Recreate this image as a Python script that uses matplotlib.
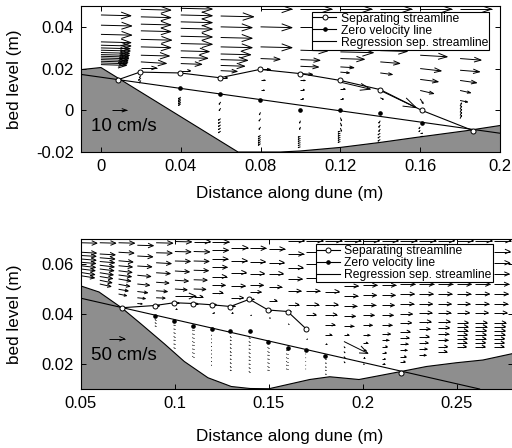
import matplotlib
matplotlib.use("Agg")
import matplotlib.pyplot as plt
from matplotlib.collections import LineCollection
from matplotlib.lines import Line2D

plt.rcParams['font.family'] = ['Liberation Sans', 'DejaVu Sans']

# ---------------- upper panel (10 cm/s reference) ----------------
top_cols = [0.00, 0.02, 0.04, 0.06, 0.08, 0.10, 0.12, 0.14, 0.16, 0.18]
top_z = [
    [0.0457, 0.0408, 0.0364, 0.0328, 0.0312, 0.0299, 0.0288, 0.0277, 0.0267, 0.0259, 0.0251, 0.0243, 0.0235, 0.0227, 0.0219],
    [0.0484, 0.0448, 0.0413, 0.0381, 0.0340, 0.0304, 0.0264, 0.0232, 0.0203, 0.0167, 0.0155, 0.0143],
    [0.0489, 0.0457, 0.0424, 0.0393, 0.0355, 0.0320, 0.0285, 0.0253, 0.0224, 0.0190, 0.0063, 0.0055, 0.0047, 0.0039, 0.0031],
    [0.0452, 0.0400, 0.0349, 0.0304, 0.0270, 0.0243, 0.0215, 0.0190, 0.0156, 0.0040, 0.0010, -0.0040, -0.0055, -0.0070, -0.0085, -0.0100],
    [0.0485, 0.0400, 0.0304, 0.0248, 0.0196, 0.0144, 0.0096, -0.0010, -0.0040, -0.0080, -0.0120, -0.0130, -0.0140, -0.0150, -0.0160],
    [0.0485, 0.0400, 0.0288, 0.0243, 0.0211, 0.0176, 0.0143, 0.0099, 0.0055, -0.0050, -0.0080, -0.0125, -0.0135, -0.0145, -0.0155, -0.0165, -0.0175],
    [0.0485, 0.0280, 0.0248, 0.0208, 0.0183, 0.0135, 0.0103, 0.0055, -0.0035, -0.0060, -0.0085, -0.0100, -0.0110, -0.0120, -0.0130, -0.0140, -0.0150],
    [0.0485, 0.0286, 0.0232, 0.0179, 0.0095, 0.0060, -0.0050, -0.0070, -0.0090, -0.0110, -0.0125, -0.0140],
    [0.0485, 0.0264, 0.0200, 0.0148, 0.0095, 0.0055, -0.0080, -0.0095, -0.0110, -0.0125],
    [0.0485, 0.0248, 0.0192, 0.0143, 0.0095, 0.0047, 0.0020, 0.0005, -0.0010, -0.0025, -0.0040],
]
top_u = [
    [20, 20.5, 20.5, 20, 20, 19.5, 19.5, 19, 19, 18.5, 18.5, 18, 18, 17.5, 17],
    [20, 20, 20, 20, 20.5, 20, 19, 17, 10.5, -1, -1.5, -1],
    [21, 21, 21, 21, 21, 21, 19, 18, 14, 6.5, -1.5, -1.5, -1.5, -1.5, -1.5],
    [22, 21, 21, 21, 20, 18, 16, 11, 4.5, -1, -1, -1.5, -1.5, -1.5, -1.5, -1.5],
    [21, 21, 21, 13, 6.5, 3, 2.5, -0.8, -1, -1, -1.5, -1.5, -1.5, -1.5, -1.5],
    [21, 21, 18, 13, 12, 8, 3, 2.5, 2, -0.6, -0.6, -1.5, -1.5, -1.5, -1.5, -1.5, -1.5],
    [21, 22, 16, 9, 6, 20, 3, 2, 0.8, 0.8, 0.8, -1.5, -1.5, -1.5, -1.5, -1.5, -1.5],
    [21, 18, 13, 8, 24, 2, -1, -1, -1, -1.5, -1.5, -1.5],
    [21, 18, 14, 12, 9, 2, -0.8, -0.8, 1.5, 1.5],
    [21, 14, 13, 11, 7, 5, 1, 1, 1, 1, 1],
]
top_w = [
    [-0.5, -0.5, -0.5, -0.5, -0.5, -0.5, -0.5, -0.5, -0.5, -0.5, -0.5, -0.5, -0.5, -0.5, -0.5],
    [-0.5, -0.5, -0.5, -0.5, -0.5, -0.5, -0.5, -1, 0, -1.5, -1.5, -1.5],
    [-0.5, -0.5, -0.5, -0.5, -0.5, -0.5, -0.5, -0.5, -0.5, 0, -1, -1, -1, -1, -1],
    [-0.5, -0.5, -0.5, -0.5, -0.5, -0.5, -0.5, -0.5, 0, -1.5, -1.5, -1, -1, -1, -1, -1],
    [0, -0.5, -0.5, -0.5, 0, 0, 0, -1.5, -1.5, -1.5, -1, -1, -1, -1, -1],
    [0, 0, -0.5, -0.5, -0.5, -0.5, 0, 0, 0, -1.5, -1.5, -0.5, -0.5, -0.5, -0.5, -0.5, -0.5],
    [0, -0.5, -0.5, -0.5, -0.5, -4.5, 0, 0, -2, -2, -2, -0.5, -0.5, -0.5, -0.5, -0.5, -0.5],
    [0, -0.5, -1, -1, -11, -1, -1.5, -1.5, -1.5, -1, -1, -1],
    [0, -1, -1.5, -1.5, -2, -3, -1, -1, 0, 0],
    [0, -1, -1, -1.5, -1.5, -1, 2, 2, 2, 2, 2],
]
top_bed_x = [-0.01, 0.0, 0.0687, 0.09, 0.10, 0.12, 0.14, 0.158, 0.183, 0.20]
top_bed_z = [0.0195, 0.0205, -0.0200, -0.0200, -0.0195, -0.0178, -0.0154, -0.0130, -0.0098, -0.0073]
top_sep_x = [0.0087, 0.0195, 0.0396, 0.0596, 0.0797, 0.0997, 0.1200, 0.1400, 0.1607, 0.1866]
top_sep_z = [0.0147, 0.0183, 0.0179, 0.0156, 0.0196, 0.0176, 0.0143, 0.0099, 0.0000, -0.0098]
top_zero_x = [0.0396, 0.0596, 0.0797, 0.0997, 0.1200, 0.1400, 0.1607]
top_zero_z = [0.0105, 0.0076, 0.0050, 0.0000, 0.0000, -0.0014, -0.0062]
top_reg_x = [-0.01, 0.20]
top_reg_z = [0.0172, -0.0110]

# ---------------- lower panel (50 cm/s reference) ----------------
bot_cols = [0.05, 0.06, 0.07, 0.08, 0.09, 0.10, 0.11, 0.12, 0.13, 0.14, 0.15, 0.16,
            0.17, 0.18, 0.19, 0.20, 0.21, 0.22, 0.23, 0.24, 0.25, 0.26, 0.27]
bot_z = [
    [0.0685, 0.0647, 0.0634, 0.0620, 0.0607, 0.0593, 0.0580, 0.0566, 0.0553],
    [0.0685, 0.0640, 0.0625, 0.0610, 0.0595, 0.0580, 0.0565, 0.0550, 0.0535, 0.0520],
    [0.0685, 0.0647, 0.0613, 0.0593, 0.0573, 0.0556, 0.0540, 0.0519, 0.0499, 0.0480],
    [0.0675, 0.0632, 0.0592, 0.0555, 0.0520, 0.0490, 0.0465, 0.0442],
    [0.0685, 0.0645, 0.0605, 0.0565, 0.0527, 0.0493, 0.0465, 0.0434, 0.0378, 0.0365, 0.0352],
    [0.0690, 0.0650, 0.0612, 0.0572, 0.0535, 0.0500, 0.0472, 0.0445, 0.0420, 0.0355, 0.0340, 0.0325, 0.0310, 0.0295, 0.0280, 0.0265],
    [0.0690, 0.0650, 0.0612, 0.0575, 0.0537, 0.0500, 0.0470, 0.0442, 0.0335, 0.0320, 0.0305, 0.0290, 0.0275, 0.0260, 0.0245, 0.0230],
    [0.0688, 0.0655, 0.0620, 0.0587, 0.0550, 0.0515, 0.0486, 0.0438, 0.0405, 0.0315, 0.0300, 0.0285, 0.0270, 0.0255, 0.0240, 0.0225, 0.0210, 0.0195],
    [0.0665, 0.0613, 0.0566, 0.0512, 0.0465, 0.0431, 0.0405, 0.0310, 0.0295, 0.0280, 0.0265, 0.0250, 0.0235, 0.0220, 0.0205, 0.0190, 0.0175],
    [0.0663, 0.0609, 0.0562, 0.0515, 0.0488, 0.0459, 0.0395, 0.0305, 0.0290, 0.0275, 0.0260, 0.0245, 0.0230, 0.0215, 0.0200, 0.0185, 0.0170],
    [0.0660, 0.0606, 0.0562, 0.0508, 0.0454, 0.0414, 0.0385, 0.0266, 0.0250, 0.0235, 0.0220, 0.0205, 0.0190, 0.0175],
    [0.0694, 0.0640, 0.0586, 0.0540, 0.0492, 0.0438, 0.0411, 0.0360, 0.0255, 0.0240, 0.0225, 0.0210, 0.0195, 0.0180],
    [0.0694, 0.0650, 0.0600, 0.0545, 0.0492, 0.0438, 0.0398, 0.0341, 0.0300, 0.0240, 0.0225, 0.0210, 0.0195, 0.0180],
    [0.0694, 0.0650, 0.0600, 0.0545, 0.0490, 0.0438, 0.0398, 0.0357, 0.0317, 0.0280, 0.0220, 0.0205, 0.0190, 0.0175, 0.0160],
    [0.0694, 0.0650, 0.0600, 0.0550, 0.0512, 0.0472, 0.0431, 0.0391, 0.0351, 0.0317, 0.0290, 0.0270, 0.0250, 0.0230, 0.0210],
    [0.0694, 0.0650, 0.0605, 0.0560, 0.0515, 0.0475, 0.0435, 0.0395, 0.0355, 0.0315, 0.0285, 0.0255, 0.0225, 0.0200],
    [0.0694, 0.0650, 0.0605, 0.0560, 0.0515, 0.0475, 0.0435, 0.0395, 0.0355, 0.0320, 0.0295, 0.0270, 0.0245, 0.0220, 0.0200],
    [0.0694, 0.0650, 0.0605, 0.0560, 0.0519, 0.0480, 0.0440, 0.0400, 0.0365, 0.0330, 0.0305, 0.0280, 0.0255, 0.0230, 0.0210],
    [0.0694, 0.0650, 0.0605, 0.0560, 0.0519, 0.0480, 0.0440, 0.0405, 0.0370, 0.0340, 0.0310, 0.0285, 0.0260, 0.0235],
    [0.0694, 0.0650, 0.0605, 0.0560, 0.0519, 0.0480, 0.0440, 0.0405, 0.0370, 0.0345, 0.0320, 0.0295, 0.0270, 0.0250],
    [0.0694, 0.0650, 0.0605, 0.0560, 0.0519, 0.0480, 0.0440, 0.0405, 0.0366, 0.0350, 0.0334, 0.0318, 0.0302, 0.0286, 0.0270],
    [0.0694, 0.0650, 0.0605, 0.0560, 0.0519, 0.0480, 0.0440, 0.0405, 0.0366, 0.0350, 0.0334, 0.0318, 0.0302, 0.0286, 0.0270],
    [0.0694, 0.0650, 0.0605, 0.0560, 0.0519, 0.0480, 0.0440, 0.0405, 0.0366, 0.0350, 0.0334, 0.0318, 0.0302, 0.0286, 0.0270],
]
bot_u = [
    [50, 48, 47, 47, 46, 45, 44, 43, 42],
    [50, 48, 47, 46, 45, 44, 42, 40, 38, 35],
    [50, 48, 45, 43, 42, 40, 38, 35, 30, 25],
    [50, 48, 45, 42, 38, 32, 25, 15],
    [52, 50, 47, 44, 40, 35, 28, 10, -3, -3, -3],
    [52, 50, 48, 45, 42, 38, 65, 12, 6, -3, -3, -3, -3, -3, -3, -3],
    [52, 50, 48, 46, 42, 38, 28, 12, -3, -3, -3, -3, -3, -3, -3, -3],
    [52, 50, 48, 46, 44, 40, 32, 12, 6, -3, -3, -3, -3, -3, -3, -3, -3, -3],
    [52, 50, 47, 44, 38, 12, 5, -3, -3, -3, -3, -3, -3, -3, -3, -3, -3],
    [50, 48, 45, 42, 35, 12, 4, -3, -3, -3, -3, -3, -3, -3, -3, -3, -3],
    [50, 48, 45, 40, 25, 8, 4, -3, -3, -3, -3, -3, -3, -3],
    [52, 50, 48, 46, 42, 35, 10, 3, -3, -3, -3, -3, -3, -3],
    [52, 50, 48, 46, 42, 38, 30, 5, 3, -2, -2, -2, -2, -2],
    [52, 50, 48, 46, 44, 40, 36, 30, 20, 5, 2, 2, 2, 2, 2],
    [52, 50, 48, 46, 45, 43, 40, 36, 30, 15, 75, 3, 3, 3, 3],
    [52, 50, 48, 46, 45, 43, 40, 36, 30, 22, 15, 10, 6, 4],
    [52, 50, 48, 46, 45, 43, 40, 37, 33, 28, 22, 18, 15, 12, 10],
    [52, 50, 48, 47, 46, 44, 42, 38, 35, 30, 27, 24, 21, 18, 15],
    [52, 50, 48, 47, 46, 44, 42, 40, 37, 34, 31, 28, 25, 22],
    [52, 50, 48, 47, 46, 44, 42, 40, 38, 36, 34, 32, 30, 28],
    [52, 50, 48, 47, 46, 44, 42, 40, 36, 35, 34, 33, 32, 31, 30],
    [52, 50, 48, 47, 46, 44, 42, 40, 36, 35, 34, 33, 32, 31, 30],
    [52, 50, 48, 47, 46, 44, 42, 40, 36, 35, 34, 33, 32, 31, 30],
]
bot_w = [
    [-1, -2, -2, -3, -3, -4, -4, -5, -5],
    [-1, -2, -3, -3, -4, -4, -5, -5, -6, -6],
    [-1, -2, -3, -3, -4, -4, -5, -5, -4, -4],
    [-1, -2, -2, -3, -3, -3, -2, -1],
    [-1, -1, -2, -2, -2, -2, -1, 0, 0, 0, 0],
    [-1, -1, -1, -2, -2, -2, 0, 0, 0, 0, 0, 0, 0, 0, 0, 0],
    [0, -1, -1, -1, -1, -1, 0, 0, 0, 0, 0, 0, 0, 0, 0, 0],
    [0, 0, 0, 0, 0, 0, 0, 0, 0, 0, 0, 0, 0, 0, 0, 0, 0, 0],
    [0, 0, 0, 0, 0, 0, 0, 0, 0, 0, 0, 0, 0, 0, 0, 0, 0],
    [0, 0, 0, 0, 0, 0, 0, 0, 0, 0, 0, 0, 0, 0, 0, 0, 0],
    [0, 0, 0, 0, 0, 0, 0, 0, 0, 0, 0, 0, 0, 0],
    [0, 0, 0, 0, 0, 0, 0, 0, 0, 0, 0, 0, 0, 0],
    [0, 0, 0, 0, 0, 0, 0, 0, 0, 0, 0, 0, 0, 0],
    [0, 0, 0, 0, 0, 0, 0, 0, 0, 0, 0, 0, 0, 0, 0],
    [0, 0, 0, 0, 0, 0, 0, 0, 0, 0, -28, -3, -3, -3, -3],
    [0, 0, 0, 0, 0, 0, 0, 0, 0, 0, 0, 0, 0, 0],
    [0, 0, 0, 0, 0, 0, 0, 0, 0, 0, 0, 0, 0, 0, 0],
    [0, 0, 0, 0, 0, 0, 0, 0, 0, 0, 0, 0, 0, 0, 0],
    [0, 0, 0, 0, 0, 0, 0, 0, 0, 0, 0, 0, 0, 0],
    [0, 0, 0, 0, 0, 0, 0, 0, 0, 0, 0, 0, 0, 0],
    [0, 0, 0, 0, 0, 0, 0, 0, 0, 0, 0, 0, 0, 0, 0],
    [0, 0, 0, 0, 0, 0, 0, 0, 0, 0, 0, 0, 0, 0, 0],
    [0, 0, 0, 0, 0, 0, 0, 0, 0, 0, 0, 0, 0, 0, 0],
]
bot_bed_x = [0.05, 0.0596, 0.0716, 0.082, 0.0945, 0.105, 0.1176, 0.130, 0.140, 0.150,
             0.1718, 0.1824, 0.198, 0.2197, 0.2339, 0.2498, 0.264, 0.28]
bot_bed_z = [0.0512, 0.0488, 0.0425, 0.0360, 0.0280, 0.0210, 0.0145, 0.0110, 0.0102, 0.0101,
             0.0138, 0.0149, 0.0138, 0.0169, 0.0190, 0.0205, 0.0216, 0.0242]
bot_sep_x = [0.0716, 0.0894, 0.0996, 0.1097, 0.1195, 0.1295, 0.1397, 0.1496, 0.1600, 0.1698]
bot_sep_z = [0.0425, 0.0434, 0.0445, 0.0442, 0.0437, 0.0430, 0.0459, 0.0416, 0.0410, 0.0341]
bot_reatt_x = [0.2206]
bot_reatt_z = [0.0166]
bot_zero_x = [0.0894, 0.0996, 0.1097, 0.1195, 0.1295, 0.1399, 0.1496, 0.1603, 0.1700, 0.1800]
bot_zero_z = [0.0391, 0.0374, 0.0354, 0.0339, 0.0331, 0.0331, 0.0290, 0.0265, 0.0256, 0.0234]
bot_reg_x = [0.05, 0.2622]
bot_reg_z = [0.0463, 0.0100]

GREY = '#8e8e8e'
legend_labels = ['Separating streamline', 'Zero velocity line', 'Regression sep. streamline']


def matlab_quiver(ax, cols, zs, us, ws, scale):
    # MATLAB style arrows: shaft plus open V head, 1/3 of the length
    a, b = 0.33, 0.33
    segs = []
    for x0, zc, uc, wc in zip(cols, zs, us, ws):
        for z0, u, w in zip(zc, uc, wc):
            dx, dz = u * scale, w * scale
            x1, z1 = x0 + dx, z0 + dz
            segs.append([(x0, z0), (x1, z1)])
            segs.append([(x1 - a * (dx + b * dz), z1 - a * (dz - b * dx)), (x1, z1),
                         (x1 - a * (dx - b * dz), z1 - a * (dz + b * dx))])
    ax.add_collection(LineCollection(segs, colors='k', linewidths=0.7, zorder=2))


def panel(ax, bed_x, bed_z, ymin, sep_x, sep_z, zero_x, zero_z, reg_x, reg_z):
    ax.fill_between(bed_x, bed_z, ymin - 1, color=GREY, lw=0, zorder=1)
    ax.plot(bed_x, bed_z, color='k', lw=0.8, zorder=3)
    ax.plot(reg_x, reg_z, color='k', lw=0.8, zorder=3)
    ax.plot(sep_x, sep_z, color='k', lw=0.8, marker='o', ms=3.6, mfc='white', mew=0.7, zorder=4)
    ax.plot(zero_x, zero_z, ls='none', marker='o', ms=2.3, color='k', zorder=4)


def style(ax, xlim, ylim, xticks, xlabels, yticks, ylabels, leg_anchor, xlab, ylab):
    ax.set_xlim(*xlim)
    ax.set_ylim(*ylim)
    ax.set_xticks(xticks)
    ax.set_xticklabels(xlabels)
    ax.set_yticks(yticks)
    ax.set_yticklabels(ylabels)
    ax.tick_params(direction='in', top=True, right=True, length=3.5, width=0.7,
                   labelsize=12, pad=5)
    for s in ax.spines.values():
        s.set_linewidth(0.8)
    ax.set_xlabel('Distance along dune (m)', fontsize=12.3)
    ax.set_ylabel('bed level (m)', fontsize=12.3)
    ax.xaxis.set_label_coords(*xlab)
    ax.yaxis.set_label_coords(*ylab)
    handles = [Line2D([], [], color='k', lw=0.8, marker='o', ms=3.6, mfc='white', mew=0.7),
               Line2D([], [], color='k', lw=0.8, marker='o', ms=2.3),
               Line2D([], [], color='k', lw=0.8)]
    leg = ax.legend(handles, legend_labels, loc='upper right', bbox_to_anchor=leg_anchor,
                    fontsize=8.7, fancybox=False, edgecolor='k', framealpha=1,
                    borderpad=0.08, labelspacing=0.0, handlelength=1.9,
                    handletextpad=0.4, borderaxespad=0)
    leg.get_frame().set_linewidth(0.8)
    leg.set_zorder(6)


fig = plt.figure(figsize=(5.12, 4.48), dpi=100)
ax1 = fig.add_axes([81 / 512, 1 - 152 / 448, 419 / 512, 146 / 448])
ax2 = fig.add_axes([81 / 512, 1 - 389 / 448, 432 / 512, 150 / 448])

# upper panel
panel(ax1, top_bed_x, top_bed_z, -0.02, top_sep_x, top_sep_z,
      top_zero_x, top_zero_z, top_reg_x, top_reg_z)
matlab_quiver(ax1, top_cols, top_z, top_u, top_w, 0.00075)
matlab_quiver(ax1, [0.0054], [[0.0]], [[10]], [[0]], 0.00075)
ax1.text(-0.0050, -0.0076, '10 cm/s', fontsize=13.5, va='center', ha='left', zorder=5)
style(ax1, (-0.01, 0.2), (-0.02, 0.05), [0, 0.04, 0.08, 0.12, 0.16, 0.2],
      ['0', '0.04', '0.08', '0.12', '0.16', '0.2'], [-0.02, 0, 0.02, 0.04],
      ['-0.02', '0', '0.02', '0.04'], (0.9745, 0.961), (0.499, -0.235), (-0.14, 0.5))

# lower panel
panel(ax2, bot_bed_x, bot_bed_z, 0.01, bot_sep_x, bot_sep_z,
      bot_zero_x, bot_zero_z, bot_reg_x, bot_reg_z)
ax2.plot(bot_reatt_x, bot_reatt_z, ls='none', marker='o', ms=3.6, mfc='white',
         mec='k', mew=0.7, zorder=4)
matlab_quiver(ax2, bot_cols, bot_z, bot_u, bot_w, 0.00017)
matlab_quiver(ax2, [0.0647], [[0.0301]], [[50]], [[0]], 0.00017)
ax2.text(0.0555, 0.0236, '50 cm/s', fontsize=13.5, va='center', ha='left', zorder=5)
style(ax2, (0.05, 0.28), (0.01, 0.07), [0.05, 0.1, 0.15, 0.2, 0.25],
      ['0.05', '0.1', '0.15', '0.2', '0.25'], [0.02, 0.04, 0.06],
      ['0.02', '0.04', '0.06'], (0.953, 0.967), (0.484, -0.265), (-0.136, 0.5))

fig.savefig('out.png', dpi=100)
